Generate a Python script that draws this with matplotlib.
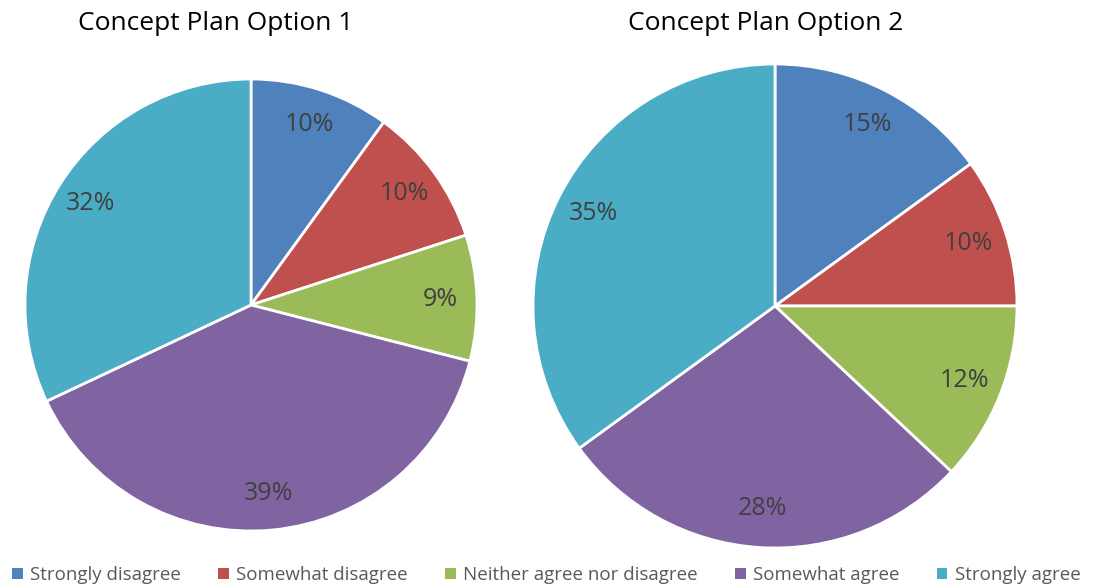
import matplotlib.pyplot as plt
from matplotlib.patches import Patch

CATEGORIES = ["Strongly disagree", "Somewhat disagree",
              "Neither agree nor disagree", "Somewhat agree", "Strongly agree"]
OPTION_1 = [10, 10, 9, 39, 32]
OPTION_2 = [15, 10, 12, 28, 35]
COLORS = ["#4F81BD", "#C0504D", "#9BBB59", "#8064A2", "#4BACC6"]

W, H = 1093, 588


def draw_pie(fig, cx, cy, r, values, title, title_x):
    ax = fig.add_axes([(cx - r) / W, (H - cy - r) / H, 2 * r / W, 2 * r / H])
    ax.pie(values, colors=COLORS, startangle=90, counterclock=False,
           autopct=lambda p: "%d%%" % round(p), pctdistance=0.84,
           wedgeprops=dict(edgecolor="white", linewidth=2),
           textprops=dict(color="#404040", fontsize=18, family="Open Sans"))
    ax.set_xlim(-1.0, 1.0)
    ax.set_ylim(-1.0, 1.0)
    ax.set_aspect("equal")
    ax.axis("off")
    fig.text(title_x / W, 1 - 24 / H, title, ha="center", va="center",
             fontsize=19, family="Open Sans", color="black")


def main():
    fig = plt.figure(figsize=(W / 100, H / 100), dpi=100)
    draw_pie(fig, 251, 305, 226, OPTION_1, "Concept Plan Option 1", 216)
    draw_pie(fig, 775, 306, 242, OPTION_2, "Concept Plan Option 2", 766)

    handles = [Patch(facecolor=c, edgecolor="none") for c in COLORS]
    fig.legend(handles, CATEGORIES, loc="center", ncol=5,
               bbox_to_anchor=(0.5, 1 - 575 / H), frameon=False,
               handlelength=0.55, handleheight=0.55, handletextpad=0.4,
               columnspacing=2.0,
               prop=dict(family=["Liberation Sans Narrow", "Open Sans"],
                         size=13.5),
               labelcolor="#595959")

    fig.savefig("out.png", dpi=100)


if __name__ == '__main__':
    main()
